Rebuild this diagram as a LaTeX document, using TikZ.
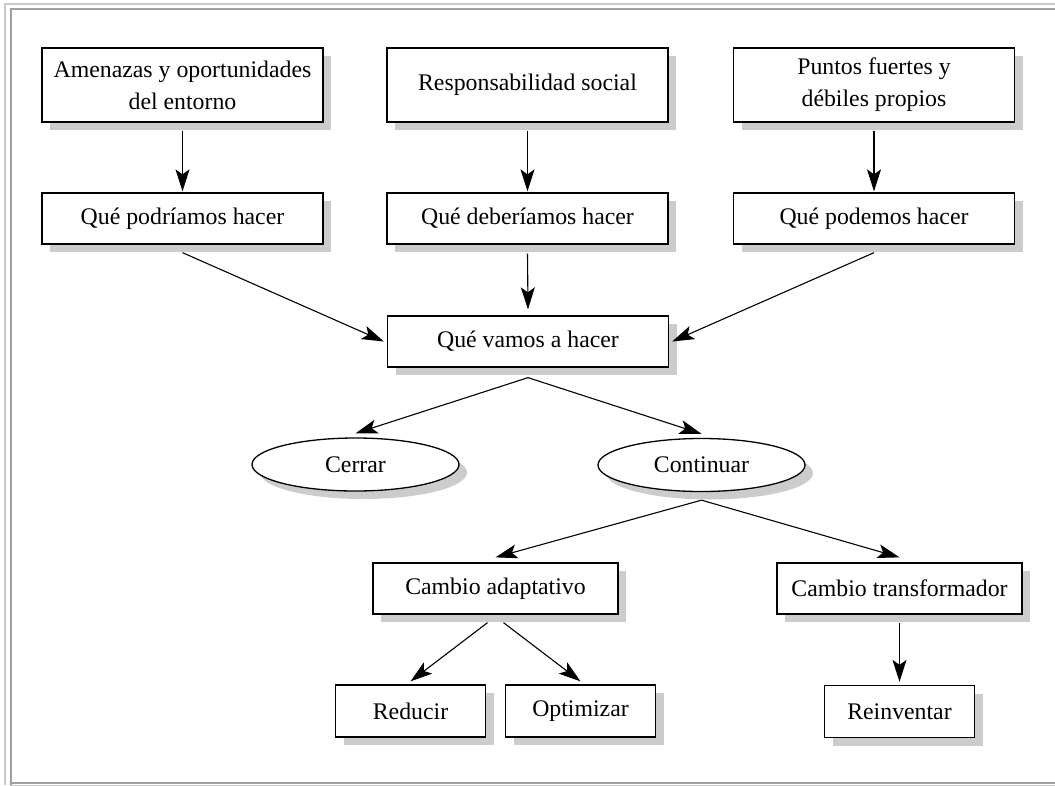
\documentclass[tikz,border=0pt]{standalone}
\usepackage{fontspec}
\setmainfont{Liberation Serif}
\usetikzlibrary{shapes.geometric,shadows,arrows.meta}
\definecolor{shgray}{HTML}{CCCCCC}
\definecolor{frlight}{HTML}{C8C8C8}
\definecolor{frdark}{HTML}{A0A0A0}
\begin{document}
\begin{tikzpicture}[x=1pt,y=1pt,
  every node/.style={font=\fontsize{23.8}{32}\selectfont},
  boxnode/.style={draw, fill=white, line width=1.3pt, inner sep=0pt, align=center,
    general shadow={fill=shgray, shadow xshift=8pt, shadow yshift=-8pt}},
  wide/.style={boxnode, minimum width=281pt, minimum height=51pt},
  tall/.style={boxnode, minimum width=281pt, minimum height=74pt},
  mid/.style={boxnode, minimum width=245pt, minimum height=51pt},
  small/.style={boxnode, minimum width=150pt, minimum height=52pt},
  ellnode/.style={boxnode, ellipse, minimum width=207pt, minimum height=53pt},
  arr/.style={-{Stealth[length=22pt,width=14pt,inset=5pt]}, line width=1.1pt},
]
\useasboundingbox (0,0) rectangle (1055,-785);
% frame
\draw[frlight, line width=1.2pt] (5,-785) -- (5,-4) -- (1055,-4);
\draw[frdark, line width=2pt] (10.5,-785) -- (10.5,-8.5) -- (1055,-8.5);
\draw[frdark, line width=1.6pt] (10,-783) -- (1055,-783);
\draw[frlight, line width=1pt] (10,-785) -- (1055,-785);
% nodes
\node[tall] (amen) at (182.5,-85) {Amenazas y oportunidades\\del entorno};
\node[tall] (resp) at (527.5,-85) {Responsabilidad social};
\node[tall] (punt) at (874,-85) {Puntos fuertes y\\débiles propios};
\node[wide] (pod) at (182.5,-218.5) {Qué podríamos hacer};
\node[wide] (deb) at (527.5,-218.5) {Qué deberíamos hacer};
\node[wide] (pdm) at (874,-218.5) {Qué podemos hacer};
\node[wide] (vam) at (528,-341.5) {Qué vamos a hacer};
\node[ellnode] (cer) at (355.5,-464.5) {Cerrar};
\node[ellnode] (con) at (701.5,-465) {Continuar};
\node[mid] (ada) at (495.5,-588.5) {Cambio adaptativo};
\node[mid] (tra) at (899.5,-588.5) {Cambio transformador};
\node[small] (red) at (410.5,-711) {Reducir};
\node[small] (opt) at (580.5,-711) {Optimizar};
\node[small] (rei) at (899.5,-711.5) {Reinventar};
% connectors
\draw[arr] ([yshift=-8pt]amen.south) -- ([yshift=1pt]pod.north);
\draw[arr] ([yshift=-8pt]resp.south) -- ([yshift=1pt]deb.north);
\draw[arr] ([yshift=-8pt]punt.south) -- ([yshift=1pt]pdm.north);
\draw[arr] ([yshift=-8pt]pod.south) -- ([xshift=-3pt]vam.west);
\draw[arr] ([yshift=-9pt]deb.south) -- ([yshift=6pt]vam.north);
\draw[arr] ([yshift=-8pt]pdm.south) -- ([xshift=3pt]vam.east);
\draw[arr] ([yshift=-10pt]vam.south) -- ([yshift=4pt]cer.north);
\draw[arr] ([yshift=-10pt]vam.south) -- ([yshift=4pt]con.north);
\draw[arr] ([yshift=-8pt]con.south) -- ([yshift=5pt]ada.north);
\draw[arr] ([yshift=-8pt]con.south) -- ([yshift=5pt]tra.north);
\draw[arr] ([xshift=-8pt,yshift=-8pt]ada.south) -- ([yshift=3pt]red.north);
\draw[arr] ([xshift=8pt,yshift=-8pt]ada.south) -- ([yshift=3pt]opt.north);
\draw[arr] ([yshift=-8pt]tra.south) -- ([yshift=3pt]rei.north);
\end{tikzpicture}
\end{document}
